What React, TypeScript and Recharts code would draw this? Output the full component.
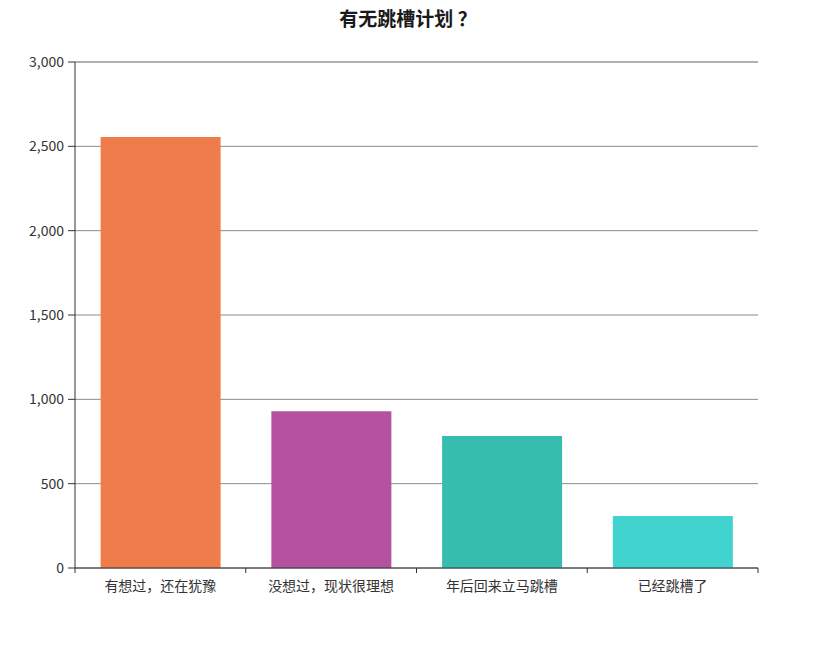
import { BarChart, Bar, XAxis, YAxis, CartesianGrid, Cell, ReferenceLine } from 'recharts';

const categories = ['有想过，还在犹豫', '没想过，现状很理想', '年后回来立马跳槽', '已经跳槽了'];
const counts = [2555, 930, 782, 308];
const barColors = ['#ef7d4b', '#b4529f', '#36bdad', '#41d4cf'];
const yTicks = [0, 500, 1000, 1500, 2000, 2500, 3000];

const data = categories.map((name, i) => ({ name, value: counts[i] }));

const fontFamily = '"Noto Sans CJK SC", "Noto Sans", sans-serif';

const TICK_SIZE = 5;
const TICK_MARGIN = 8;

// category labels plus tick marks on the band boundaries
const CategoryTick = (props: any) => {
  const { x, y, payload, index } = props;
  const half = payload?.offset ?? 0;
  const top = y - TICK_SIZE - TICK_MARGIN;
  return (
    <g>
      <line x1={x - half} x2={x - half} y1={top} y2={top + TICK_SIZE} stroke="#333" />
      {index === categories.length - 1 && (
        <line x1={x + half} x2={x + half} y1={top} y2={top + TICK_SIZE} stroke="#333" />
      )}
      <text x={x} y={y} dy={10} textAnchor="middle" fill="#333" fontSize={14}>
        {payload.value}
      </text>
    </g>
  );
};

const App = () => {
  return (
    <div style={{ position: 'absolute', left: 0, top: 0, width: 820, height: 655, background: '#fff', fontFamily }}>
      <div
        style={{
          position: 'absolute',
          top: 4,
          left: 0,
          width: 816,
          textAlign: 'center',
          fontSize: 19,
          fontWeight: 'bold',
          color: '#1a1a1a',
        }}
      >
        有无跳槽计划 ？
      </div>
      <BarChart
        width={820}
        height={655}
        data={data}
        margin={{ top: 62, right: 62, left: 15, bottom: 57 }}
        barCategoryGap="15%"
      >
        <CartesianGrid vertical={false} stroke="#8a8a8a" />
        <ReferenceLine y={3000} stroke="#b0b0b0" strokeWidth={2} />
        <XAxis
          dataKey="name"
          height={30}
          axisLine={{ stroke: '#333' }}
          tickLine={false}
          tickSize={TICK_SIZE}
          tickMargin={TICK_MARGIN}
          tick={<CategoryTick />}
          interval={0}
        />
        <YAxis
          width={60}
          domain={[0, 3000]}
          ticks={yTicks}
          tickFormatter={(v: number) => v.toLocaleString('en-US')}
          axisLine={{ stroke: '#333' }}
          tickLine={{ stroke: '#333' }}
          tickSize={7}
          tickMargin={4}
          tick={{ fill: '#333', fontSize: 14 }}
        />
        <Bar dataKey="value" isAnimationActive={false}>
          {data.map((_, index) => (
            <Cell key={`cell-${index}`} fill={barColors[index]} />
          ))}
        </Bar>
      </BarChart>
    </div>
  );
};

export default App;
